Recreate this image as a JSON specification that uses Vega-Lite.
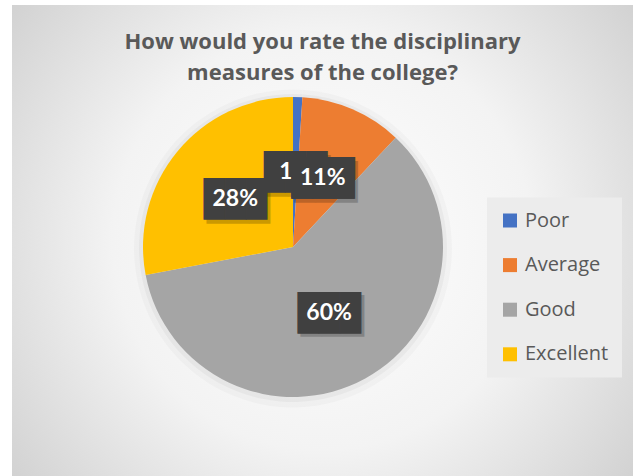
{
  "$schema": "https://vega.github.io/schema/vega-lite/v6.json",
  "width": 621,
  "height": 471,
  "autosize": {"type": "none"},
  "padding": {"left": 12, "top": 5, "right": 4, "bottom": 0},
  "background": "#ffffff",
  "title": {
    "text": ["How would you rate the disciplinary", "measures of the college?"],
    "anchor": "middle",
    "frame": "group",
    "offset": -80,
    "font": "Open Sans",
    "fontSize": 22,
    "fontWeight": "bold",
    "color": "#595959",
    "lineHeight": 31
  },
  "data": {
    "values": [
      {"rating": "Poor", "pct": 1, "label": "1%", "rank": 1},
      {"rating": "Average", "pct": 11, "label": "11%", "rank": 2},
      {"rating": "Good", "pct": 60, "label": "60%", "rank": 3},
      {"rating": "Excellent", "pct": 28, "label": "28%", "rank": 4}
    ]
  },
  "layer": [
    {
      "mark": {
        "type": "rect",
        "fill": {
          "gradient": "radial",
          "x1": 0.5, "y1": 0.5, "r1": 0,
          "x2": 0.5, "y2": 0.5, "r2": 0.75,
          "stops": [
            {"offset": 0, "color": "#ffffff"},
            {"offset": 0.45, "color": "#f3f3f3"},
            {"offset": 1, "color": "#c4c4c4"}
          ]
        }
      },
      "encoding": {}
    },
    {
      "encoding": {
        "theta": {"field": "pct", "type": "quantitative", "stack": true},
        "order": {"field": "rank", "type": "quantitative"}
      },
      "layer": [
        {
          "mark": {"type": "arc", "outerRadius": 159, "xOffset": -29.5, "yOffset": 8, "color": "#000000", "opacity": 0.025},
          "encoding": {"detail": {"field": "rating", "type": "nominal"}}
        },
        {
          "mark": {"type": "arc", "outerRadius": 154, "xOffset": -29.5, "yOffset": 7.5, "color": "#000000", "opacity": 0.035},
          "encoding": {"detail": {"field": "rating", "type": "nominal"}}
        },
        {
          "mark": {"type": "arc", "outerRadius": 150, "xOffset": -29.5, "yOffset": 6.5},
          "encoding": {
            "color": {
              "field": "rating",
              "type": "nominal",
              "scale": {
                "domain": ["Poor", "Average", "Good", "Excellent"],
                "range": ["#4472C4", "#ED7D31", "#A5A5A5", "#FFC000"]
              },
              "legend": {
                "orient": "none",
                "legendX": 475,
                "legendY": 192.5,
                "title": null,
                "symbolType": "square",
                "symbolSize": 196,
                "symbolStrokeWidth": 0,
                "labelFont": "Open Sans",
                "labelFontSize": 20,
                "labelColor": "#595959",
                "labelOffset": 5,
                "rowPadding": 24.6,
                "padding": 13,
                "fillColor": "#ececec"
              }
            }
          }
        },
        {
          "mark": {"type": "text", "text": "███", "font": "DejaVu Sans Mono", "fontSize": 35, "radius": 75, "xOffset": -26.5, "yOffset": 10, "dy": 1, "color": "#000000", "opacity": 0.2, "align": "center", "baseline": "middle"},
          "encoding": {"detail": {"field": "rating", "type": "nominal"}}
        },
        {
          "mark": {"type": "text", "text": "███", "font": "DejaVu Sans Mono", "fontSize": 35, "radius": 75, "xOffset": -29.5, "yOffset": 6.5, "dy": 1, "color": "#404040", "align": "center", "baseline": "middle"},
          "encoding": {"detail": {"field": "rating", "type": "nominal"}}
        },
        {
          "mark": {"type": "text", "font": "Lato", "fontSize": 23, "fontWeight": "bold", "radius": 75, "xOffset": -29.5, "yOffset": 6.5, "color": "#ffffff", "align": "center", "baseline": "middle"},
          "encoding": {"detail": {"field": "rating", "type": "nominal"}, "text": {"field": "label"}}
        },
        {
          "mark": {"type": "text", "text": "███", "font": "DejaVu Sans Mono", "fontSize": 35, "radius": 75, "xOffset": -29.5, "yOffset": 6.5, "dy": 1, "color": "#404040", "align": "center", "baseline": "middle"},
          "encoding": {
            "detail": {"field": "rating", "type": "nominal"},
            "opacity": {"condition": {"test": "datum.rating === 'Average'", "value": 1}, "value": 0}
          }
        },
        {
          "mark": {"type": "text", "font": "Lato", "fontSize": 23, "fontWeight": "bold", "radius": 75, "xOffset": -29.5, "yOffset": 6.5, "color": "#ffffff", "align": "center", "baseline": "middle"},
          "encoding": {
            "detail": {"field": "rating", "type": "nominal"},
            "text": {"field": "label"},
            "opacity": {"condition": {"test": "datum.rating === 'Average'", "value": 1}, "value": 0}
          }
        }
      ]
    }
  ],
  "config": {"view": {"stroke": null}}
}
